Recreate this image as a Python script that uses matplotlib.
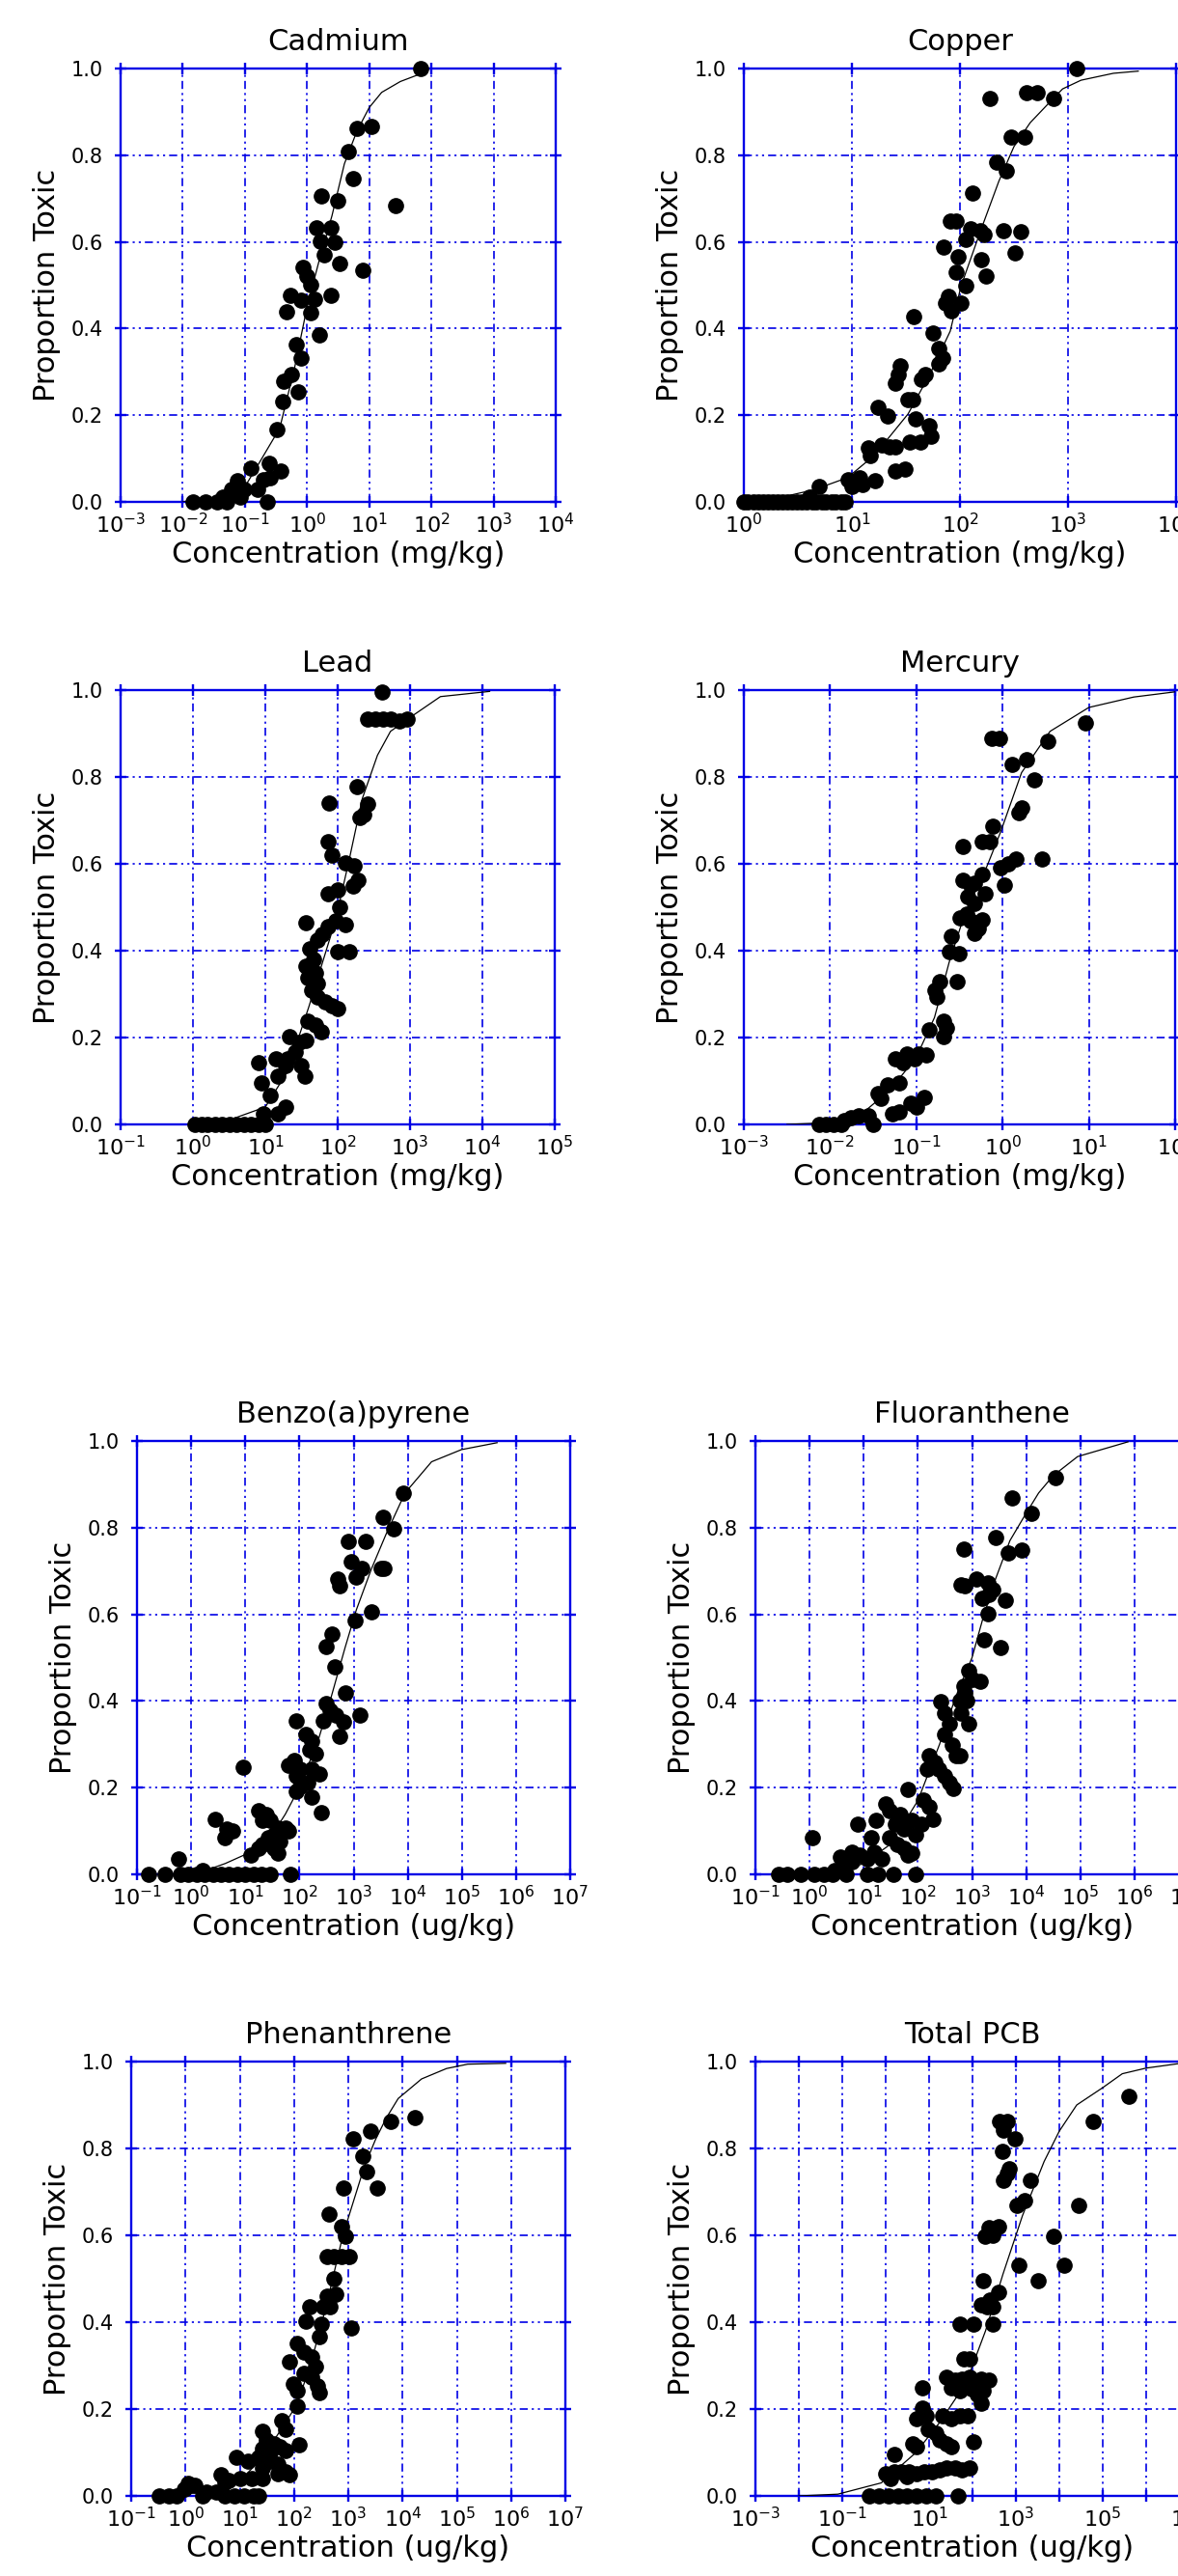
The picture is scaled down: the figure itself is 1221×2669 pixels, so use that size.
import numpy as np
import matplotlib
matplotlib.use("Agg")
import matplotlib.pyplot as plt
from matplotlib.ticker import NullLocator, FormatStrFormatter

plt.rcParams['font.family'] = ['DejaVu Sans']
plt.rcParams['mathtext.fontset'] = 'dejavusans'

BLUE = '#0000e6'
W, H = 1221, 2669  # output size in px (dpi 100)

# data below: (log10 concentration, proportion toxic)

cd_points = [(1.83, 1.0), (1.04, 0.866), (0.81, 0.863), (0.67, 0.809), (0.74, 0.745), (0.23, 0.707),
             (0.49, 0.695), (1.42, 0.683), (0.15, 0.633), (0.38, 0.632), (0.21, 0.602), (0.45, 0.600),
             (0.27, 0.570), (0.52, 0.550), (0.90, 0.534), (-0.07, 0.542), (0.00, 0.522), (0.05, 0.502),
             (0.38, 0.476), (-0.27, 0.476), (-0.09, 0.466), (0.12, 0.468), (-0.33, 0.438), (0.06, 0.436),
             (0.19, 0.385), (-0.18, 0.363), (-0.10, 0.331), (-0.37, 0.279), (-0.26, 0.295), (-0.15, 0.255),
             (-0.39, 0.231), (-0.48, 0.167), (-0.90, 0.077), (-0.61, 0.088), (-0.42, 0.072), (-1.12, 0.048),
             (-0.71, 0.052), (-1.22, 0.028), (-1.01, 0.028), (-0.80, 0.028), (-0.64, 0.0), (-1.83, 0.0),
             (-1.63, 0.0), (-1.45, 0.0), (-1.29, 0.0), (-1.07, 0.012), (-1.35, 0.012), (-0.59, 0.056)]
cd_curve = [(-2.0, 0.0), (-1.5, 0.004), (-1.2, 0.015), (-1.0, 0.035), (-0.77, 0.09), (-0.44, 0.17),
            (-0.2, 0.31), (0.0, 0.45), (0.2, 0.56), (0.4, 0.66), (0.6, 0.78), (0.8, 0.855), (1.0, 0.91),
            (1.2, 0.945), (1.5, 0.97), (1.83, 0.988)]

cu_points = [(3.08, 1.0), (2.28, 0.932), (2.62, 0.944), (2.71, 0.944), (2.87, 0.932), (2.47, 0.842),
             (2.60, 0.842), (2.34, 0.785), (2.43, 0.765), (2.12, 0.712), (1.91, 0.649), (1.96, 0.649),
             (1.85, 0.587), (2.05, 0.606), (2.10, 0.630), (2.19, 0.625), (2.22, 0.617), (2.40, 0.625),
             (2.56, 0.624), (2.51, 0.574), (1.98, 0.566), (2.20, 0.558), (1.96, 0.530), (2.24, 0.522),
             (2.05, 0.498), (1.89, 0.474), (1.87, 0.458), (1.92, 0.442), (2.01, 0.458), (1.57, 0.428),
             (1.75, 0.390), (1.80, 0.355), (1.84, 0.331), (1.80, 0.319), (1.45, 0.315), (1.43, 0.295),
             (1.40, 0.275), (1.68, 0.295), (1.64, 0.283), (1.52, 0.235), (1.56, 0.235), (1.24, 0.219),
             (1.33, 0.199), (1.59, 0.191), (1.71, 0.175), (1.73, 0.151), (1.54, 0.139), (1.63, 0.139),
             (1.15, 0.124), (1.17, 0.108), (1.28, 0.131), (1.35, 0.127), (1.40, 0.127), (1.40, 0.072),
             (1.49, 0.076), (0.96, 0.052), (1.07, 0.056), (1.10, 0.040), (1.21, 0.048), (0.70, 0.036),
             (0.61, 0.012), (1.00, 0.036),
             (0.0, 0.0), (0.04, 0.0), (0.09, 0.0), (0.13, 0.0), (0.18, 0.0), (0.22, 0.0), (0.27, 0.0),
             (0.31, 0.0), (0.36, 0.0), (0.40, 0.0), (0.45, 0.0), (0.49, 0.0), (0.54, 0.0), (0.58, 0.0),
             (0.63, 0.0), (0.67, 0.0), (0.72, 0.0), (0.76, 0.0), (0.81, 0.0), (0.85, 0.0), (0.90, 0.0),
             (0.94, 0.0)]
cu_curve = [(0.0, 0.0), (0.3, 0.008), (0.65, 0.028), (0.96, 0.056), (1.21, 0.108), (1.52, 0.203),
            (1.73, 0.299), (1.91, 0.394), (2.01, 0.498), (2.19, 0.625), (2.36, 0.74), (2.5, 0.82),
            (2.65, 0.875), (2.86, 0.93), (2.95, 0.953), (3.12, 0.973), (3.42, 0.989), (3.65, 0.994)]

pb_points = [(2.61, 0.996), (2.41, 0.933), (2.52, 0.933), (2.62, 0.933), (2.73, 0.933), (2.85, 0.928),
             (2.96, 0.933), (2.26, 0.778), (2.41, 0.738), (2.36, 0.714), (2.31, 0.706), (1.88, 0.740),
             (1.87, 0.651), (1.92, 0.619), (2.10, 0.603), (2.23, 0.595), (2.28, 0.563), (2.21, 0.548),
             (1.87, 0.532), (2.00, 0.540), (2.03, 0.500), (1.97, 0.468), (2.10, 0.460), (1.87, 0.456),
             (1.56, 0.464), (1.78, 0.437), (1.72, 0.425), (2.00, 0.397), (2.16, 0.397), (1.61, 0.405),
             (1.66, 0.381), (1.56, 0.365), (1.69, 0.349), (1.59, 0.337), (1.72, 0.325), (1.64, 0.310),
             (1.72, 0.294), (1.82, 0.282), (1.92, 0.274), (2.00, 0.266), (1.59, 0.238), (1.69, 0.230),
             (1.77, 0.214), (1.33, 0.202), (1.46, 0.190), (1.56, 0.194), (1.41, 0.167), (1.31, 0.151),
             (1.49, 0.135), (1.54, 0.111), (0.91, 0.143), (0.94, 0.095), (1.15, 0.151), (1.28, 0.135),
             (1.17, 0.111), (1.07, 0.067), (1.28, 0.040), (1.17, 0.024), (0.97, 0.024),
             (0.03, 0.0), (0.12, 0.0), (0.20, 0.0), (0.30, 0.0), (0.40, 0.0), (0.50, 0.0), (0.60, 0.0),
             (0.70, 0.0), (0.80, 0.0), (0.90, 0.0), (1.00, 0.0)]
pb_curve = [(0.0, 0.0), (0.5, 0.01), (1.0, 0.04), (1.3, 0.12), (1.6, 0.27), (1.97, 0.47), (2.16, 0.61),
            (2.34, 0.75), (2.55, 0.85), (2.73, 0.905), (3.0, 0.937), (3.42, 0.985), (4.1, 0.997)]

hg_points = [(0.96, 0.925), (-0.13, 0.889), (-0.04, 0.889), (0.52, 0.883), (0.11, 0.829), (0.28, 0.841),
             (0.37, 0.794), (0.22, 0.730), (0.19, 0.718), (-0.11, 0.687), (-0.46, 0.639), (-0.24, 0.651),
             (-0.15, 0.651), (0.46, 0.611), (-0.02, 0.591), (0.07, 0.599), (0.15, 0.611), (0.02, 0.552),
             (-0.46, 0.563), (-0.37, 0.552), (-0.24, 0.575), (-0.33, 0.556), (-0.20, 0.532), (-0.40, 0.524),
             (-0.33, 0.508), (-0.42, 0.484), (-0.49, 0.476), (-0.37, 0.468), (-0.24, 0.472), (-0.28, 0.452),
             (-0.33, 0.440), (-0.59, 0.433), (-0.62, 0.397), (-0.51, 0.393), (-0.53, 0.329), (-0.73, 0.329),
             (-0.78, 0.310), (-0.76, 0.294), (-0.85, 0.218), (-0.69, 0.238), (-0.65, 0.222), (-0.69, 0.202),
             (-1.11, 0.163), (-0.98, 0.163), (-0.89, 0.159), (-1.24, 0.151), (-1.15, 0.143), (-1.02, 0.151),
             (-1.20, 0.095), (-1.33, 0.091), (-1.45, 0.071), (-1.41, 0.060), (-0.91, 0.063), (-1.06, 0.048),
             (-1.00, 0.040), (-1.20, 0.028), (-1.28, 0.024), (-1.56, 0.020), (-1.67, 0.020), (-1.76, 0.016),
             (-1.84, 0.008), (-1.50, 0.0), (-2.13, 0.0), (-2.05, 0.0), (-1.96, 0.0), (-1.87, 0.0)]
hg_curve = [(-2.5, 0.0), (-2.0, 0.004), (-1.6, 0.03), (-1.3, 0.08), (-1.0, 0.155), (-0.79, 0.246),
            (-0.62, 0.373), (-0.44, 0.484), (-0.18, 0.595), (-0.02, 0.675), (0.22, 0.81), (0.55, 0.905),
            (1.0, 0.96), (1.52, 0.984), (2.0, 0.996)]

bap_points = [(3.92, 0.880), (3.54, 0.825), (3.74, 0.797), (2.91, 0.769), (3.22, 0.769), (2.95, 0.721),
              (3.16, 0.705), (3.05, 0.685), (3.50, 0.705), (3.57, 0.705), (2.70, 0.681), (2.74, 0.665),
              (3.02, 0.586), (3.33, 0.606), (2.60, 0.554), (2.50, 0.526), (2.66, 0.478), (2.84, 0.418),
              (2.50, 0.394), (2.67, 0.367), (2.81, 0.351), (2.57, 0.378), (3.12, 0.367), (2.74, 0.319),
              (1.94, 0.355), (2.43, 0.355), (2.12, 0.323), (2.22, 0.307), (2.19, 0.287), (2.29, 0.279),
              (1.80, 0.251), (1.91, 0.263), (2.01, 0.243), (1.94, 0.227), (2.22, 0.243), (2.36, 0.231),
              (2.15, 0.211), (2.01, 0.203), (1.94, 0.191), (2.22, 0.179), (2.41, 0.143), (0.96, 0.247),
              (0.45, 0.127), (0.66, 0.104), (0.77, 0.100), (0.63, 0.084), (1.25, 0.147), (1.39, 0.139),
              (1.32, 0.124), (1.46, 0.124), (1.60, 0.108), (1.74, 0.108), (1.80, 0.100), (1.53, 0.092),
              (1.42, 0.084), (1.63, 0.076), (1.53, 0.060), (1.60, 0.048), (1.32, 0.068), (1.25, 0.060),
              (1.11, 0.044), (-0.24, 0.036), (0.21, 0.008),
              (-0.79, 0.0), (-0.48, 0.0), (-0.20, 0.0), (-0.05, 0.0), (0.10, 0.0), (0.25, 0.0), (0.40, 0.0),
              (0.55, 0.0), (0.70, 0.0), (0.85, 0.0), (1.00, 0.0), (1.15, 0.0), (1.30, 0.0), (1.45, 0.0),
              (1.84, 0.0)]
bap_curve = [(0.2, 0.006), (0.63, 0.025), (1.04, 0.048), (1.46, 0.084), (1.74, 0.139), (2.01, 0.203),
             (2.36, 0.315), (2.57, 0.402), (2.84, 0.522), (3.05, 0.61), (3.33, 0.705), (3.6, 0.785),
             (3.95, 0.88), (4.44, 0.952), (4.99, 0.98), (5.65, 0.996)]

flu_points = [(4.54, 0.916), (3.74, 0.869), (4.09, 0.833), (3.43, 0.777), (2.84, 0.751), (3.67, 0.741),
              (3.92, 0.749), (2.80, 0.669), (2.87, 0.665), (3.08, 0.681), (3.29, 0.673), (3.39, 0.657),
              (3.18, 0.637), (3.32, 0.645), (3.62, 0.632), (3.29, 0.602), (3.22, 0.542), (3.53, 0.524),
              (2.94, 0.470), (3.01, 0.450), (3.15, 0.446), (2.84, 0.434), (2.87, 0.418), (2.77, 0.402),
              (2.91, 0.402), (2.42, 0.398), (2.49, 0.371), (2.59, 0.347), (2.80, 0.371), (2.94, 0.347),
              (2.49, 0.323), (2.63, 0.299), (2.70, 0.275), (2.77, 0.275), (2.21, 0.275), (2.31, 0.259),
              (2.17, 0.243), (2.38, 0.243), (2.49, 0.227), (2.59, 0.211), (2.66, 0.199), (1.82, 0.195),
              (2.10, 0.171), (2.21, 0.155), (2.28, 0.127), (2.07, 0.116), (1.96, 0.092), (1.41, 0.163),
              (1.48, 0.147), (1.68, 0.139), (1.58, 0.116), (1.75, 0.104), (1.89, 0.124), (0.88, 0.116),
              (1.23, 0.124), (0.05, 0.084), (1.13, 0.084), (1.48, 0.084), (1.62, 0.068), (1.75, 0.060),
              (1.82, 0.044), (1.89, 0.048), (0.57, 0.040), (0.78, 0.052), (0.92, 0.044), (1.06, 0.036),
              (1.20, 0.052), (1.34, 0.036), (0.78, 0.028), (0.46, 0.008), (0.60, 0.008),
              (-0.58, 0.0), (-0.41, 0.0), (-0.16, 0.0), (0.08, 0.0), (0.26, 0.0), (0.43, 0.0), (0.67, 0.0),
              (1.06, 0.0), (1.27, 0.0), (1.55, 0.0), (1.96, 0.0)]
flu_curve = [(0.5, 0.005), (1.0, 0.025), (1.5, 0.07), (2.0, 0.17), (2.4, 0.3), (2.7, 0.41), (3.0, 0.5),
             (3.2, 0.59), (3.43, 0.68), (3.7, 0.77), (3.96, 0.825), (4.23, 0.88), (4.5, 0.92),
             (4.95, 0.964), (5.88, 0.998)]

phe_points = [(4.23, 0.871), (3.78, 0.863), (3.40, 0.840), (3.09, 0.823), (3.26, 0.782), (3.33, 0.746),
              (3.54, 0.710), (2.91, 0.710), (2.64, 0.649), (2.88, 0.621), (2.95, 0.597), (2.60, 0.552),
              (2.74, 0.552), (2.88, 0.552), (3.02, 0.552), (2.74, 0.500), (2.60, 0.460), (2.77, 0.464),
              (2.53, 0.435), (2.67, 0.435), (2.29, 0.435), (2.50, 0.395), (2.46, 0.367), (2.22, 0.403),
              (3.06, 0.387), (2.05, 0.351), (2.19, 0.331), (2.32, 0.319), (2.39, 0.298), (1.91, 0.310),
              (2.19, 0.282), (2.32, 0.274), (1.98, 0.258), (2.05, 0.242), (2.43, 0.254), (2.46, 0.238),
              (2.05, 0.206), (1.77, 0.173), (1.84, 0.153), (2.10, 0.117), (1.42, 0.149), (1.49, 0.129),
              (1.63, 0.121), (1.73, 0.113), (1.84, 0.105), (1.56, 0.101), (1.42, 0.109), (1.35, 0.089),
              (1.56, 0.081), (1.70, 0.073), (1.84, 0.056), (1.91, 0.048), (1.42, 0.065), (1.70, 0.052),
              (0.94, 0.089), (1.15, 0.081), (0.66, 0.048), (0.80, 0.036), (1.01, 0.040), (0.73, 0.032),
              (1.22, 0.040), (1.42, 0.040), (0.04, 0.028), (0.18, 0.024), (-0.03, 0.016),
              (-0.48, 0.0), (-0.31, 0.0), (-0.17, 0.0), (0.32, 0.0), (0.39, 0.008), (0.56, 0.008),
              (0.73, 0.0), (0.90, 0.0), (1.08, 0.0), (1.25, 0.0), (1.35, 0.0)]
phe_curve = [(0.0, 0.004), (0.5, 0.012), (1.0, 0.035), (1.4, 0.085), (1.8, 0.16), (2.05, 0.21), (2.3, 0.3),
             (2.6, 0.44), (2.9, 0.6), (3.1, 0.68), (3.3, 0.76), (3.5, 0.82), (3.7, 0.87), (3.92, 0.915),
             (4.35, 0.96), (4.81, 0.984), (5.2, 0.994), (5.9, 0.996)]

pcb_points = [(5.59, 0.919), (4.77, 0.863), (4.45, 0.668), (3.87, 0.597), (4.12, 0.532), (3.51, 0.496),
              (3.07, 0.532), (2.63, 0.863), (2.81, 0.863), (2.72, 0.843), (2.98, 0.823), (2.68, 0.794),
              (2.81, 0.742), (2.72, 0.726), (2.85, 0.754), (3.33, 0.726), (3.20, 0.681), (3.03, 0.669),
              (2.37, 0.617), (2.59, 0.621), (2.28, 0.597), (2.46, 0.601), (2.24, 0.496), (2.59, 0.468),
              (2.41, 0.452), (2.20, 0.440), (2.33, 0.435), (2.46, 0.435), (1.72, 0.395), (2.02, 0.395),
              (2.46, 0.395), (1.80, 0.315), (1.93, 0.315), (1.41, 0.274), (1.59, 0.266), (1.76, 0.270),
              (1.93, 0.274), (2.20, 0.270), (2.37, 0.266), (1.50, 0.250), (1.72, 0.242), (1.98, 0.246),
              (2.24, 0.242), (2.20, 0.214), (2.11, 0.234), (0.84, 0.250), (0.71, 0.177), (0.84, 0.202),
              (0.93, 0.185), (1.32, 0.185), (1.50, 0.177), (1.72, 0.185), (1.89, 0.185), (0.97, 0.153),
              (1.15, 0.145), (1.24, 0.129), (1.41, 0.121), (0.62, 0.121), (0.71, 0.113), (1.50, 0.113),
              (2.02, 0.125), (0.21, 0.095), (0.01, 0.052), (0.19, 0.056), (0.36, 0.056), (0.54, 0.056),
              (0.71, 0.052), (0.89, 0.056), (1.06, 0.056), (1.24, 0.060), (1.41, 0.065), (1.59, 0.065),
              (1.76, 0.060), (1.93, 0.065), (0.10, 0.040), (0.49, 0.044),
              (-0.38, 0.0), (-0.16, 0.0), (0.06, 0.0), (0.28, 0.0), (0.49, 0.0), (0.71, 0.0), (0.93, 0.0),
              (1.15, 0.0), (1.67, 0.0)]
pcb_curve = [(-2.0, 0.0), (-1.1, 0.004), (-0.1, 0.03), (0.7, 0.1), (1.25, 0.17), (1.85, 0.26), (2.3, 0.38),
             (2.7, 0.51), (3.15, 0.645), (3.65, 0.77), (4.0, 0.84), (4.4, 0.9), (5.0, 0.94), (5.45, 0.972),
             (6.0, 0.985), (6.8, 0.996)]

y_ticks = [0.0, 0.2, 0.4, 0.6, 0.8, 1.0]

# title, points, curve, unit, first/last decade, labelled decades, box (left, right, top, bottom) px
panels = [
    ("Cadmium", cd_points, cd_curve, "mg/kg", -3, 4, range(-3, 5), (125, 576, 71, 520)),
    ("Copper", cu_points, cu_curve, "mg/kg", 0, 4, range(0, 5), (771, 1219, 71, 520)),
    ("Lead", pb_points, pb_curve, "mg/kg", -1, 5, range(-1, 6), (125, 575, 715, 1165)),
    ("Mercury", hg_points, hg_curve, "mg/kg", -3, 2, range(-3, 3), (771, 1218, 715, 1165)),
    ("Benzo(a)pyrene", bap_points, bap_curve, "ug/kg", -1, 7, range(-1, 8), (142, 591, 1493, 1942)),
    ("Fluoranthene", flu_points, flu_curve, "ug/kg", -1, 7, range(-1, 8), (783, 1232, 1493, 1942)),
    ("Phenanthrene", phe_points, phe_curve, "ug/kg", -1, 7, range(-1, 8), (136, 586, 2136, 2586)),
    ("Total PCB", pcb_points, pcb_curve, "ug/kg", -3, 7, range(-3, 8, 2), (783, 1233, 2136, 2586)),
]

fig = plt.figure(figsize=(W / 100, H / 100), dpi=100)

for title, pts, curve, unit, e0, e1, labelled, box in panels:
    l, r, t, b = box
    ax = fig.add_axes([l / W, 1 - b / H, (r - l) / W, (b - t) / H])
    ax.set_xscale('log')
    ax.set_xlim(10.0 ** e0, 10.0 ** e1)
    ax.set_ylim(0, 1)

    exps = list(range(e0, e1 + 1))
    ax.set_xticks([10.0 ** e for e in exps])
    ax.set_xticklabels(['$10^{%d}$' % e if e in labelled else '' for e in exps])
    ax.xaxis.set_minor_locator(NullLocator())
    ax.set_yticks(y_ticks)
    ax.yaxis.set_major_formatter(FormatStrFormatter('%.1f'))

    ax.set_axisbelow(True)
    ax.grid(True, color=BLUE, lw=1.2, ls=(0, (5, 2.5, 1.3, 2.5, 1.3, 2.5)))
    for s in ax.spines.values():
        s.set_color(BLUE)
        s.set_linewidth(1.7)
    ax.tick_params(direction='inout', length=8, width=1.7, color=BLUE,
                   top=True, right=True)
    ax.tick_params(axis='x', labelsize=16, pad=4)
    ax.tick_params(axis='y', labelsize=15, pad=9)

    cx, cy = np.array(curve).T
    ax.plot(10.0 ** cx, cy, color='black', lw=0.9, zorder=3)
    px, py = np.array(pts).T
    ax.plot(10.0 ** px, py, 'o', color='black', ms=11, clip_on=False, zorder=4)

    ax.set_title(title, fontsize=22, pad=14)
    ax.set_xlabel(f'Concentration ({unit})', fontsize=22, labelpad=3)
    ax.set_ylabel('Proportion Toxic', fontsize=22, labelpad=8)

fig.savefig('out.png', dpi=100)
